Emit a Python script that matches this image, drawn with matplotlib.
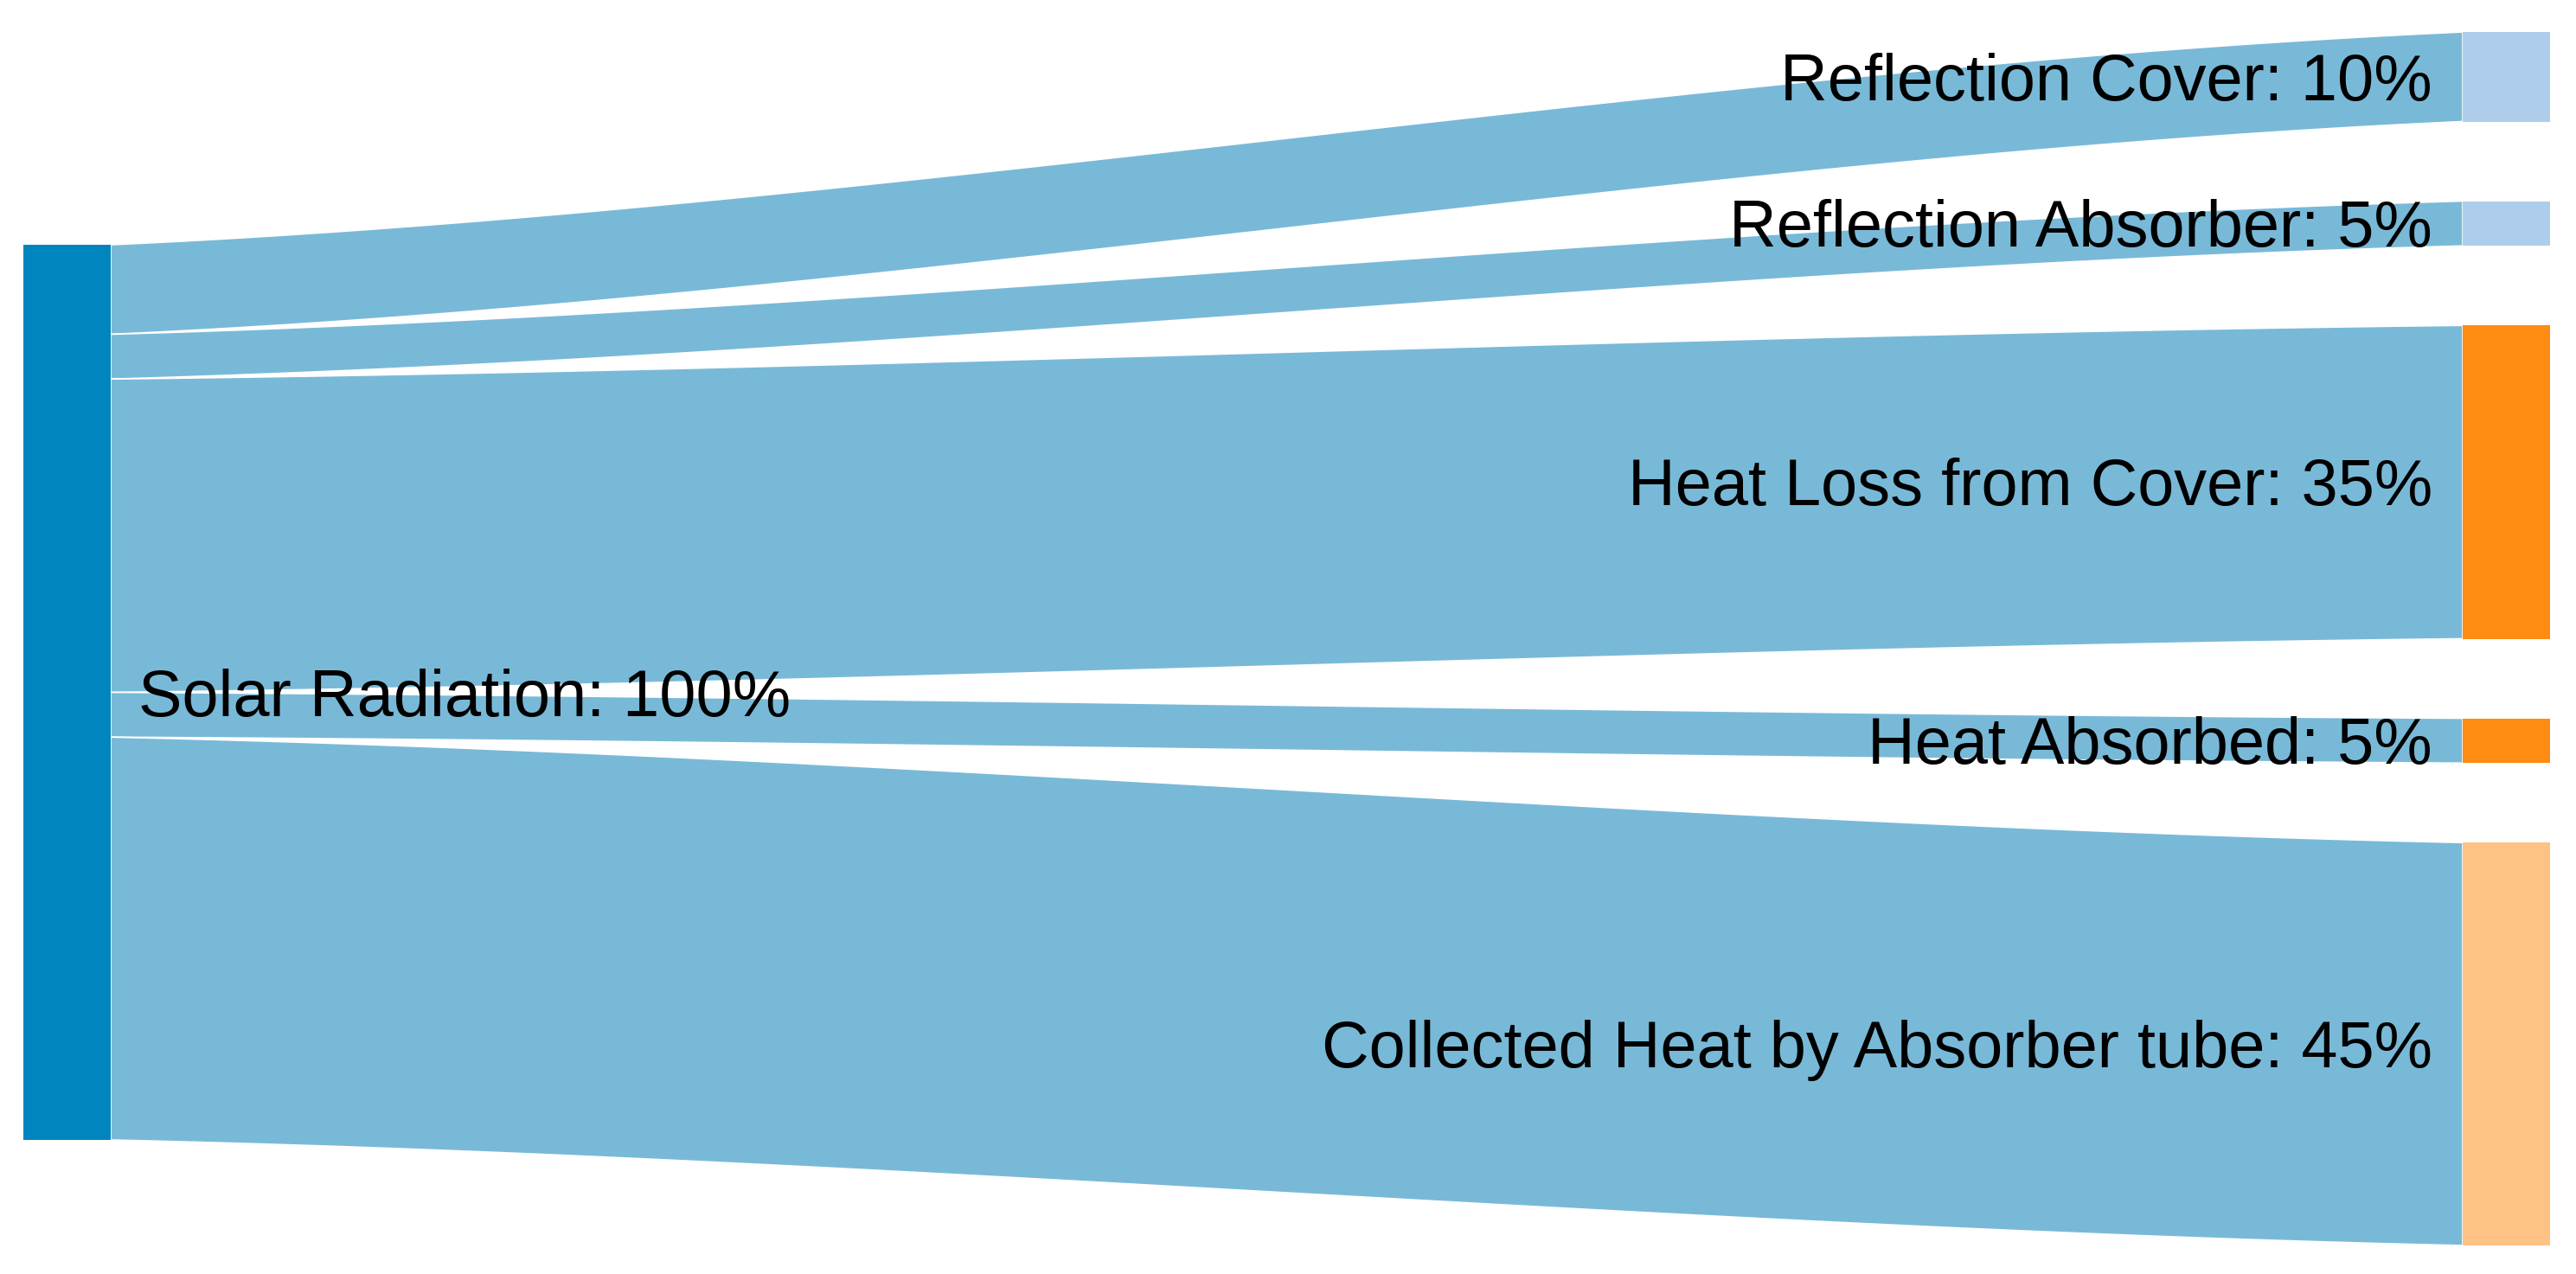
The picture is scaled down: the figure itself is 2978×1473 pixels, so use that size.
import numpy as np
import matplotlib.pyplot as plt
from matplotlib.patches import Rectangle, Polygon

plt.rcParams['font.family'] = ['Liberation Sans', 'DejaVu Sans']

source = 'Solar Radiation'
source_value = 100
targets = ['Reflection Cover', 'Reflection Absorber', 'Heat Loss from Cover',
           'Heat Absorbed', 'Collected Heat by Absorber tube']
values = [10, 5, 35, 5, 45]
source_color = '#0085bf'
link_color = '#79b9d8'
target_colors = ['#aecdeb', '#aecdeb', '#ff8c12', '#ff8c12', '#ffc285']

# layout (pixels, figure is 2978 x 1473 at dpi 100)
W, H = 2978, 1473
px_per_unit = 10.35
gap = 92
node_w = 101
left_x = 27
right_x = 2847
left_top = 283
right_top = 37
fs = 54.5

fig = plt.figure(figsize=(W / 100, H / 100), dpi=100)
ax = fig.add_axes([0, 0, 1, 1])
ax.set_xlim(0, W)
ax.set_ylim(H, 0)
ax.axis('off')

cap_half = 0.716 * fs * 100 / 72 / 2

# flows: mix of smoothstep and straight line gives the gentle S of the original
t = np.linspace(0, 1, 300)
x0 = left_x + node_w
x1 = right_x
xs = x0 + (x1 - x0) * t
s = 0.5 * (3 * t ** 2 - 2 * t ** 3) + 0.5 * t
ly = left_top
ry = right_top
right_pos = []
for v in values:
    h = v * px_per_unit
    top = ly + (ry - ly) * s
    bot = top + h
    pts = np.concatenate([np.column_stack([xs, top]), np.column_stack([xs[::-1], bot[::-1]])])
    ax.add_patch(Polygon(pts, closed=True, facecolor=link_color, edgecolor='white', lw=1.2, zorder=1))
    right_pos.append((ry, h))
    ly += h
    ry += h + gap

# source node
sh = source_value * px_per_unit
ax.add_patch(Rectangle((left_x, left_top), node_w, sh, facecolor=source_color, edgecolor='none', zorder=2))
ax.text(left_x + node_w + 32, left_top + sh / 2 + cap_half, f'{source}: {source_value}%',
        fontsize=fs, ha='left', va='baseline', color='black', zorder=3)

# target nodes
for name, v, c, (y, h) in zip(targets, values, target_colors, right_pos):
    ax.add_patch(Rectangle((right_x, y), node_w, h, facecolor=c, edgecolor='none', zorder=2))
    ax.text(right_x - 35, y + h / 2 + cap_half, f'{name}: {v}%',
            fontsize=fs, ha='right', va='baseline', color='black', zorder=3)

fig.savefig('out.png', dpi=100, facecolor='white')
